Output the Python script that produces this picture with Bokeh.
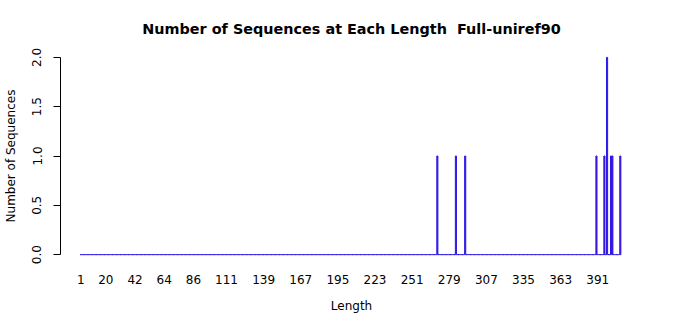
from bokeh.plotting import figure
from bokeh.models import FixedTicker, Range1d, ColumnDataSource
from bokeh.embed import file_html
from bokeh.resources import INLINE

# Data: sequence lengths with non-zero counts (all other lengths 1..408 have count 0)
max_length = 408
hit_lengths = [270, 284, 291, 390, 396, 398, 401, 402, 408]
hit_counts = [1, 1, 1, 1, 1, 2, 1, 1, 1]
x_tick_labels = [1, 20, 42, 64, 86, 111, 139, 167, 195, 223, 251, 279, 307, 335, 363, 391]
y_ticks = [0.0, 0.5, 1.0, 1.5, 2.0]

lengths = list(range(1, max_length + 1))
counts_map = dict(zip(hit_lengths, hit_counts))
counts = [counts_map.get(l, 0) for l in lengths]

bar_w = 1 / 1.2
left = lengths[0] - bar_w / 2
right = lengths[-1] + bar_w / 2
span = right - left
ymax = max(counts)

p = figure(width=700, height=315, output_backend="svg", toolbar_location=None,
           x_range=Range1d(left - 0.04 * span + 1.5, right + 0.04 * span),
           y_range=Range1d(-0.04 * ymax, ymax * 1.04),
           min_border_left=57, min_border_right=58, min_border_top=49, min_border_bottom=52)

p.title.text = "Number of Sequences at Each Length\u00a0\u00a0Full-uniref90"
p.title.align = "center"
p.title.text_font = "DejaVu Sans"
p.title.text_font_size = "14.4px"
p.title.text_font_style = "bold"
p.title.text_color = "black"
p.title.standoff = 26

src = ColumnDataSource(dict(x=lengths, top=counts))
p.vbar(x="x", top="top", bottom=0, width=bar_w, source=src,
       fill_color="#6A00D0", line_color="#2A1AE6", line_width=1.0)

p.grid.visible = False
p.outline_line_color = None
p.background_fill_color = "white"
p.border_fill_color = "white"

xa = p.xaxis[0]
xa.ticker = FixedTicker(ticks=x_tick_labels)
xa.axis_line_color = None
xa.major_tick_line_color = None
xa.minor_tick_line_color = None
xa.major_tick_out = 0
xa.major_tick_in = 0
xa.major_label_standoff = 12
xa.major_label_text_font = "DejaVu Sans"
xa.major_label_text_font_size = "12px"
xa.major_label_text_color = "black"
xa.axis_label = "Length"
xa.axis_label_text_font = "DejaVu Sans"
xa.axis_label_text_font_size = "12px"
xa.axis_label_text_font_style = "normal"
xa.axis_label_text_color = "black"
xa.axis_label_standoff = 12

ya = p.yaxis[0]
ya.ticker = FixedTicker(ticks=y_ticks)
ya.bounds = (0, ymax)
ya.axis_line_color = "black"
ya.major_tick_line_color = "black"
ya.minor_tick_line_color = None
ya.major_tick_out = 7
ya.major_tick_in = 0
ya.major_label_orientation = "vertical"
ya.major_label_standoff = 12
ya.major_label_text_font = "DejaVu Sans"
ya.major_label_text_font_size = "12px"
ya.major_label_text_color = "black"
ya.major_label_overrides = {t: f"{t:.1f}" for t in y_ticks}
ya.axis_label = "Number of Sequences"
ya.axis_label_text_font = "DejaVu Sans"
ya.axis_label_text_font_size = "12px"
ya.axis_label_text_font_style = "normal"
ya.axis_label_text_color = "black"
ya.axis_label_standoff = 12

open("out.html", "w").write(file_html(p, INLINE))
